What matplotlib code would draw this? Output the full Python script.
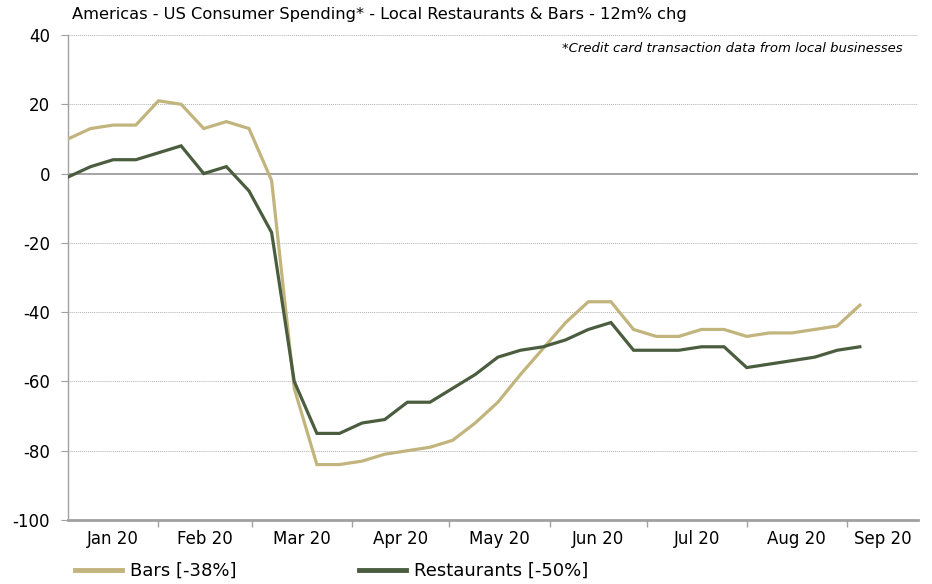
import matplotlib
matplotlib.use("Agg")
import matplotlib.pyplot as plt
import matplotlib.dates as mdates
from matplotlib.lines import Line2D
import numpy as np
import pandas as pd

# ---- data ----
dates = pd.date_range("2020-01-04", periods=36, freq="7D")
bars = [10, 13, 14, 14, 21, 20, 13, 15, 13, -2,
        -62, -84, -84, -83, -81, -80, -79, -77, -72, -66,
        -58, -50.5, -43, -37, -37, -45, -47, -47, -45, -45,
        -47, -46, -46, -45, -44, -38]
restaurants = [-1, 2, 4, 4, 6, 8, 0, 2, -5, -17,
               -60, -75, -75, -72, -71, -66, -66, -62, -58, -53,
               -51, -50, -48, -45, -43, -51, -51, -51, -50, -50,
               -56, -55, -54, -53, -51, -50]
series_labels = ["Bars [-38%]", "Restaurants [-50%]"]
month_labels = ["Jan 20", "Feb 20", "Mar 20", "Apr 20", "May 20",
                "Jun 20", "Jul 20", "Aug 20", "Sep 20"]
yticks = [40, 20, 0, -20, -40, -60, -80, -100]
title = "Americas - US Consumer Spending* - Local Restaurants & Bars - 12m% chg"
note = "*Credit card transaction data from local businesses"

bar_color = "#C2B47D"
rest_color = "#4B5D3F"

plt.rcParams["font.family"] = ["DejaVu Sans"]

fig = plt.figure(figsize=(9.32, 5.84), dpi=100)
W, H = 932, 584
ax = fig.add_axes([68 / W, 1 - 520 / H, (918 - 68) / W, (520 - 35) / H])

x0 = pd.Timestamp("2020-01-04")
x1 = pd.Timestamp("2020-09-23")

ax.plot(dates, bars, color=bar_color, lw=2.3, solid_joinstyle="miter", zorder=3)
ax.plot(dates, restaurants, color=rest_color, lw=2.3, solid_joinstyle="miter", zorder=4)

ax.set_xlim(x0, x1)
ax.set_ylim(-100, 40)

# grid lines
for y in yticks:
    if y == 0:
        ax.axhline(0, color="#8C8C8C", lw=1.1, zorder=2)
    elif y != -100:
        ax.axhline(y, color="#B0B0B0", lw=0.7, ls=(0, (1, 1)), zorder=1)

ax.set_yticks(yticks)
ax.set_yticklabels([str(v) for v in yticks], fontsize=12)
ax.tick_params(axis="y", length=5, width=0.8, color="#A0A0A0", pad=8)

# month boundary ticks & centered labels
bounds = pd.date_range("2020-02-01", "2020-09-01", freq="MS")
ax.set_xticks(bounds)
ax.set_xticklabels([])
ax.tick_params(axis="x", which="major", length=5, width=1, color="#A0A0A0")
edges = [x0] + list(bounds) + [x1]
mids = [edges[i] + (edges[i + 1] - edges[i]) / 2 for i in range(len(edges) - 1)]
ax.set_xticks(mids, minor=True)
ax.set_xticklabels(month_labels, minor=True, fontsize=12)
ax.tick_params(axis="x", which="minor", length=0, pad=7)

for s in ["top", "right"]:
    ax.spines[s].set_visible(False)
ax.spines["left"].set_color("#A0A0A0")
ax.spines["left"].set_linewidth(1)
ax.spines["bottom"].set_color("#A0A0A0")
ax.spines["bottom"].set_linewidth(2)

fig.text(72 / W, 1 - 14 / H, title, fontsize=11.7, ha="left", va="center")
fig.text(903 / W, 1 - 49 / H, note, fontsize=9.5, style="italic", ha="right", va="center")

handles = [Line2D([], [], color=bar_color, lw=3.5),
           Line2D([], [], color=rest_color, lw=3.5)]
fig.legend(handles, series_labels, loc="center left",
           bbox_to_anchor=(75 / W, 1 - 571 / H), ncol=2, frameon=False,
           fontsize=13, handlelength=2.6, handletextpad=0.45,
           columnspacing=6.8, borderaxespad=0, borderpad=0)

fig.savefig("out.png", dpi=100)
